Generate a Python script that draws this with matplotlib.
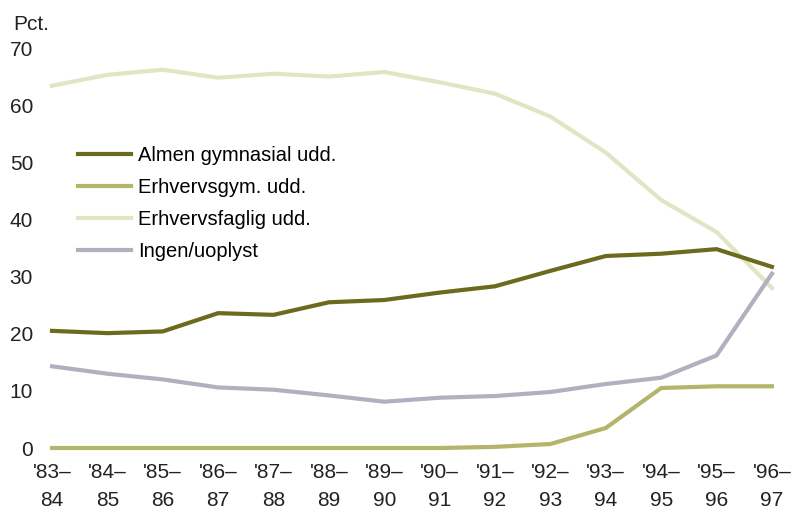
import matplotlib
matplotlib.use('Agg')
import matplotlib.pyplot as plt

plt.rcParams['font.family'] = ['Liberation Sans Narrow', 'Liberation Sans', 'DejaVu Sans']

# Skoleår og andele (pct.)
years = ["'83–\n84", "'84–\n85", "'85–\n86", "'86–\n87", "'87–\n88", "'88–\n89", "'89–\n90",
         "'90–\n91", "'91–\n92", "'92–\n93", "'93–\n94", "'94–\n95", "'95–\n96", "'96–\n97"]
almen = [20.5, 20.1, 20.4, 23.6, 23.3, 25.5, 25.9, 27.2, 28.3, 31.0, 33.6, 34.0, 34.8, 31.7]
erhvgym = [0.0, 0.0, 0.0, 0.0, 0.0, 0.0, 0.0, 0.0, 0.2, 0.7, 3.5, 10.5, 10.8, 10.8]
erhvfag = [63.4, 65.3, 66.2, 64.8, 65.5, 65.0, 65.8, 64.0, 62.0, 58.0, 51.7, 43.4, 37.8, 28.0]
ingen = [14.3, 13.0, 12.0, 10.6, 10.2, 9.2, 8.1, 8.8, 9.1, 9.8, 11.2, 12.3, 16.2, 30.5]

x = list(range(len(years)))

fig = plt.figure(figsize=(7.93, 5.13), dpi=100)
ax = fig.add_axes([40/793, 58/513, 745/793, 415/513])

ax.plot(x, erhvfag, color='#e2e5c3', lw=3, label='Erhvervsfaglig udd.', solid_joinstyle='round')
ax.plot(x, ingen, color='#b4aebf', lw=3, label='Ingen/uoplyst', solid_joinstyle='round')
ax.plot(x, erhvgym, color='#b4b46a', lw=3, label='Erhvervsgym. udd.', solid_joinstyle='round')
ax.plot(x, almen, color='#6d6a1d', lw=3, label='Almen gymnasial udd.', solid_joinstyle='round')

ax.set_xlim(-0.217, 13.236)
ax.set_ylim(-1.225, 71.4)
ax.set_yticks(range(0, 71, 10))
ax.set_xticks(x)
ax.set_xticklabels(years, linespacing=1.6)
ax.tick_params(length=0, labelsize=15, colors='#222222')
ax.tick_params(axis='y', pad=5)
ax.tick_params(axis='x', pad=6)
for s in ax.spines.values():
    s.set_visible(False)

fig.text(13/793, 1 - 24/513, 'Pct.', fontsize=15, color='#222222', va='center', ha='left')

# legende i samme rækkefølge som originalen
h, l = ax.get_legend_handles_labels()
order = [3, 2, 0, 1]
ax.legend([h[i] for i in order], [l[i] for i in order], loc='upper left',
          bbox_to_anchor=(78/793, 1 - 146/513), bbox_transform=fig.transFigure,
          frameon=False, fontsize=14.5, handlelength=2.65, handletextpad=0.35,
          labelspacing=0.65, borderpad=0, borderaxespad=0)

fig.savefig('out.png', dpi=100)
